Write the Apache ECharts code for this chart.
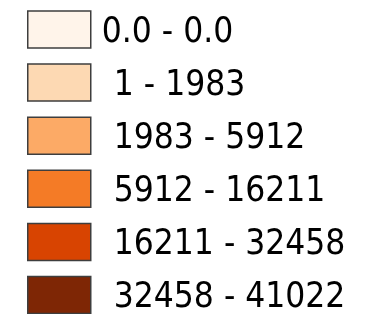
<!DOCTYPE html>
<html>
<head>
<meta charset="utf-8">
<script src="https://cdn.jsdelivr.net/npm/echarts@6/dist/echarts.min.js"></script>
<style>
  html, body { margin: 0; padding: 0; background: #fff; }
  #legendChart { width: 370px; height: 314px; }
</style>
</head>
<body>
<div id="legendChart"></div>
<script>
// class breaks and colours of the choropleth legend
var classLabels = ['0.0 - 0.0', '1 - 1983', '1983 - 5912', '5912 - 16211', '16211 - 32458', '32458 - 41022'];
var classColors = ['#fff4ea', '#fdd9b3', '#fcaa66', '#f47b26', '#d84401', '#7e2605'];

var myChart = echarts.init(document.getElementById('legendChart'));

var series = classLabels.map(function (name, i) {
	return {
		name: name,
		type: 'bar',
		data: [],
		itemStyle: { color: classColors[i], borderColor: '#3e3e3e', borderWidth: 1.5 }
	};
});

var legendData = classLabels.map(function (name, i) {
	return {
		name: name,
		textStyle: { padding: [0, 0, 0, i === 0 ? 6 : 18] }
	};
});

var option = {
	animation: false,
	grid: { show: false, left: -10, top: -10, width: 1, height: 1 },
	xAxis: { type: 'category', show: false },
	yAxis: { type: 'value', show: false },
	legend: {
		orient: 'vertical',
		left: 27,
		top: 9,
		height: 400,
		padding: 0,
		itemWidth: 63,
		itemHeight: 37,
		itemGap: 12.1,
		icon: 'rect',
		selectedMode: false,
		itemStyle: { borderColor: '#3e3e3e', borderWidth: 1.5 },
		formatter: '{t|{name}}',
		textStyle: {
			fontFamily: 'DejaVu Sans Condensed',
			fontSize: 35,
			color: '#000',
			rich: {
				t: {
					fontFamily: 'DejaVu Sans Condensed',
					fontSize: 35,
					color: '#000',
					lineHeight: 37,
					padding: [6, 0, 0, 0]
				}
			}
		},
		data: legendData
	},
	series: series
};

myChart.setOption(option);
</script>
</body>
</html>
